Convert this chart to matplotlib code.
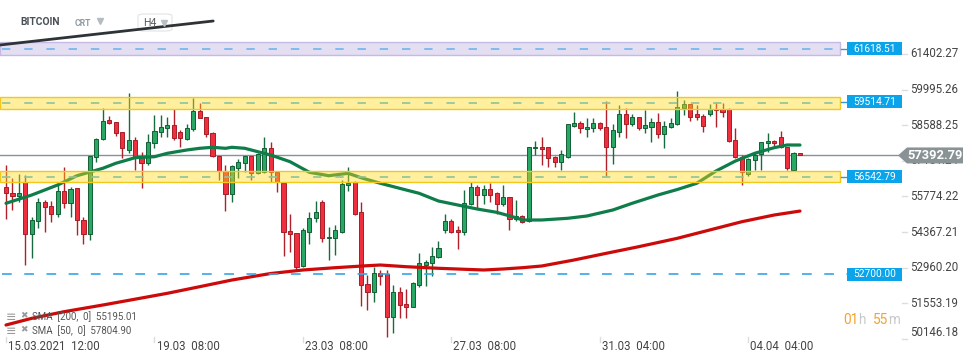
import numpy as np
import matplotlib
matplotlib.use("Agg")
import matplotlib.pyplot as plt
from matplotlib.patches import Rectangle, Polygon, FancyBboxPatch
from matplotlib.transforms import blended_transform_factory, offset_copy

plt.rcParams['font.family'] = ['Roboto', 'DejaVu Sans']
plt.rcParams['lines.scale_dashes'] = False

# ---------------- data ----------------
opens = [56134, 55897, 55802, 56355, 54277, 54802, 55565, 55407, 55067, 55988,
         55502, 56094, 54854, 54277, 57320, 58043, 58794, 58703, 58308, 57608,
         58003, 57383, 57082, 57873, 58308, 58466, 58596, 58308, 58043, 58426,
         59149, 58924, 58268, 57383, 56778, 55857, 56909, 57082, 57383, 56687,
         56727, 57675, 56750, 56292, 54407, 54328, 53036, 54379, 54909, 55541,
         54118, 54142, 54379, 56225, 56332, 55146, 52301, 51984, 52735, 52696,
         51020, 51984, 51522, 51415, 52273, 53063, 53130, 53391, 54446, 54802,
         54446, 54356, 55462, 56134, 55830, 56055, 55897, 55462, 55739, 54881,
         55012, 54802, 57675, 57738, 57715, 57320, 57146, 57343, 58568, 58663,
         58438, 58466, 58663, 58517, 57715, 58331, 59019, 58624, 58900, 58489,
         58529, 58703, 58229, 58529, 58624, 59280, 59414, 59019, 58964, 59019,
         59228, 59228, 59228, 58003, 57343, 56648, 57201, 57438, 57873, 57964,
         58110, 57738, 56818, 57501]
highs = [57015, 56490, 56660, 56620, 54972, 55699, 55632, 55592, 56355, 56948,
         56158, 56094, 54972, 57359, 58070, 59280, 58952, 58703, 58308, 59849,
         58134, 57541, 58229, 58991, 58991, 58900, 59228, 58398, 58624, 59651,
         59454, 58924, 58331, 57383, 57015, 57015, 57252, 57383, 57383, 57478,
         58134, 57912, 56750, 56292, 55067, 54328, 54514, 55170, 55592, 55632,
         54577, 54644, 56422, 56948, 56383, 55541, 52668, 52996, 52866, 52866,
         52273, 52206, 52115, 52403, 53526, 53261, 53786, 54012, 55067, 54881,
         54616, 56027, 56355, 56225, 56225, 56292, 55936, 56225, 55762, 55632,
         55039, 57727, 57964, 58134, 57738, 57383, 57608, 58624, 59098, 58754,
         58861, 58861, 58703, 59544, 58624, 59386, 59280, 59019, 58900, 59189,
         58861, 59058, 58754, 58861, 59940, 59584, 59414, 59386, 59019, 59414,
         59517, 59454, 59256, 58489, 57410, 57304, 57541, 57912, 58268, 58003,
         58359, 57738, 57541, 57501]
lows = [54881, 55237, 55553, 53063, 53352, 54537, 54379, 54751, 54972, 55304,
        54972, 54249, 53881, 54051, 57122, 58003, 58624, 58173, 57304, 57478,
        56818, 56094, 57015, 57675, 58134, 58134, 58003, 57738, 58003, 58359,
        58861, 58134, 57343, 56422, 55197, 55565, 56513, 56750, 56422, 56648,
        56687, 56355, 55960, 53431, 53565, 52866, 52996, 53881, 54774, 53960,
        53261, 53458, 54316, 55988, 55039, 51455, 51285, 51589, 52273, 50230,
        50364, 50981, 50969, 51415, 52206, 52245, 52640, 53352, 54316, 54316,
        53696, 54249, 55434, 55328, 55462, 55565, 55067, 55407, 54446, 54802,
        54711, 54774, 57410, 57015, 56948, 56948, 56818, 57280, 58529, 58268,
        58134, 58331, 58398, 56592, 57043, 58134, 58094, 58568, 58398, 58268,
        57936, 58094, 57699, 58489, 58596, 58991, 58754, 58794, 58308, 58964,
        58529, 58924, 57936, 57280, 56225, 56592, 56818, 56818, 57541, 57778,
        57699, 56818, 56778, 57392.79]
closes = [55897, 55802, 55897, 54277, 54830, 55565, 55367, 55067, 55988, 55502,
          56067, 54830, 54277, 57359, 58043, 58754, 58663, 58268, 57675, 58003,
          57343, 57082, 57912, 58359, 58505, 58596, 58094, 58070, 58466, 59149,
          58884, 58229, 57383, 56778, 55857, 56976, 57122, 57383, 56687, 57438,
          57675, 56750, 56332, 54356, 54277, 52996, 54446, 54933, 55146, 54118,
          54182, 54434, 56264, 56304, 55067, 52273, 51984, 52735, 52640, 51020,
          51984, 51482, 51415, 52340, 53130, 53170, 53431, 53723, 54802, 54379,
          54356, 55502, 56134, 55830, 56055, 55830, 55462, 55739, 54881, 55012,
          54774, 57727, 57738, 57648, 57280, 57146, 57438, 58624, 58663, 58466,
          58517, 58663, 58466, 57715, 58398, 59019, 58624, 58924, 58489, 58596,
          58703, 58229, 58557, 58663, 59319, 59414, 58924, 58924, 58568, 59228,
          59177, 59122, 57964, 57343, 56727, 57252, 57410, 57912, 57964, 57873,
          57738, 56885, 57501, 57392.79]

sma50_idx = [0, 4, 8, 11, 15, 17, 20, 23, 25, 28, 30, 32, 34, 35, 37, 39, 41, 44,
             47, 50, 53, 55, 58, 62, 64, 67, 70, 73, 76, 79, 80, 83, 87, 90, 94,
             97, 101, 104, 107, 110, 113, 116, 119, 121, 123]
sma50_val = [55502, 55830, 56225, 56592, 56885, 57082, 57304, 57343, 57478, 57608,
             57675, 57715, 57675, 57715, 57675, 57541, 57410, 57146, 56727, 56592,
             56687, 56513, 56292, 56027, 55897, 55592, 55434, 55276, 55146, 54933,
             54842, 54842, 54909, 55000, 55237, 55502, 55830, 56047, 56292, 56778,
             57173, 57478, 57699, 57806, 57804.90]
sma200_idx = [0, 4, 9, 15, 21, 25, 30, 35, 41, 46, 51, 56, 58, 62, 67, 74, 77, 80,
              83, 88, 93, 98, 104, 109, 114, 119, 123]
sma200_val = [50692, 50957, 51218, 51482, 51759, 51945, 52206, 52470, 52727, 52866,
              52957, 53036, 53063, 52996, 52933, 52866, 52905, 52957, 53024, 53261,
              53526, 53786, 54118, 54446, 54774, 55039, 55195.01]

band_levels = [61618.51, 59514.71, 56542.79]
band_lo = [61362, 59228, 56332]
band_hi = [61876, 59691, 56778]
line_level = 52700.00
last_price = 57392.79

price_ticks = [61402.27, 59995.26, 58588.25, 57181.24, 55774.22,
               54367.21, 52960.20, 51553.19, 50146.18]
time_tick_idx = [0, 23, 46, 69, 92, 115]
time_tick_labels = ["15.03.2021  12:00", "19.03  08:00", "23.03  08:00",
                    "27.03  08:00", "31.03  04:00", "04.04  04:00"]

trend_x = [-0.93, 32.1]
trend_y = [61758, 62706]

# ---------------- figure ----------------
W, H = 970, 364
fig = plt.figure(figsize=(W / 100, H / 100), dpi=100)
ax = fig.add_axes([0, 0, 1, 1])
ax.axis('off')
YMIN, YMAX = 49151, 63536
ax.set_xlim(-6 / 6.455, (W - 6) / 6.455)
ax.set_ylim(YMIN, YMAX)
PPX = (YMAX - YMIN) / H  # price per pixel


def X(px):
    return px / W


def Yf(py):
    return 1 - py / H


tb = blended_transform_factory(ax.transAxes, ax.transData)  # x axes frac, y data
tx = blended_transform_factory(ax.transData, ax.transAxes)  # x data, y axes frac

o = np.array(opens, float)
h = np.array(highs, float)
l = np.array(lows, float)
c = np.array(closes, float)
x = np.arange(len(o))
up = c >= o
bot = np.minimum(o, c)
bh = np.maximum(np.abs(c - o), PPX * 1.2)

# current price line
ax.plot([0, X(898)], [last_price, last_price], transform=tb, color='#8a9094',
        lw=1.0, zorder=1)

# candles
ax.vlines(x[up], l[up], h[up], color='#176b3f', lw=1.0, zorder=2)
ax.vlines(x[~up], l[~up], h[~up], color='#b0202b', lw=1.0, zorder=2)
ax.bar(x[up], bh[up], bottom=bot[up], width=0.64, color='#28a864',
       edgecolor='#145e36', linewidth=0.7, zorder=2.1)
ax.bar(x[~up], bh[~up], bottom=bot[~up], width=0.64, color='#ef2f3d',
       edgecolor='#a51d27', linewidth=0.7, zorder=2.1)

# SMAs
ax.plot(sma50_idx, sma50_val, color='#0e7d4a', lw=2.3, zorder=3,
        solid_capstyle='round', solid_joinstyle='round')
ax.plot(sma200_idx, sma200_val, color='#cc0a0a', lw=2.3, zorder=3,
        solid_capstyle='round', solid_joinstyle='round')

# bands
band_face = [(0.88, 0.85, 0.95, 0.85), (1.0, 0.85, 0.1, 0.42), (1.0, 0.85, 0.1, 0.42)]
band_edge = ['#c6b9e2', '#f2c81c', '#f2c81c']
dash_col = ['#6fb4ee', '#8fc39a', '#8fc39a']
for lv, lo, hi, fc, ec, dc in zip(band_levels, band_lo, band_hi, band_face, band_edge, dash_col):
    ax.add_patch(Rectangle((0, lo), X(840), hi - lo, transform=tb, facecolor=fc,
                           edgecolor=ec, lw=1.0, zorder=4))
    mid = (lo + hi) / 2
    ax.plot([X(2), X(838)], [mid, mid], transform=tb, color=dc, lw=1.2,
            dashes=(6, 10), zorder=4.5)
    ax.plot([X(841), X(847)], [lv, lv], transform=tb, color='#2b9be0', lw=1.0, zorder=4.5)

# 52700 line
ax.plot([X(2), X(847)], [line_level, line_level], transform=tb, color='#35a6e6',
        lw=1.2, dashes=(7, 9), zorder=4.5)

# level boxes
for lv in band_levels + [line_level]:
    ax.add_patch(Rectangle((X(847), lv - 6.5 * PPX), X(902) - X(847), 13 * PPX,
                           transform=tb, facecolor='#0ba4ea', edgecolor='none', zorder=6))
    ax.text(X(874.5), lv, f"{lv:.2f}", transform=tb, color='white', fontsize=7.3,
            ha='center', va='center', zorder=7)

# trendline
ax.plot(trend_x, trend_y, color='#2e3338', lw=2.0, zorder=5, solid_capstyle='round')

# price axis labels
tag_bottom = last_price - 8 * PPX
for i, p in enumerate(price_ticks):
    dy = 6 if i == len(price_ticks) - 1 else 0
    ax.plot([X(902), X(907)], [p, p], transform=tb, color='#dddddd', lw=1, zorder=5)
    if abs(p - last_price) < 10 * PPX:
        # label hidden behind the current-price tag: only its lower edge shows
        clip = Rectangle((X(905), YMIN), X(965) - X(905), tag_bottom - YMIN,
                         transform=tb, facecolor='none', edgecolor='none')
        ax.add_patch(clip)
        t = ax.text(X(910), p, f"{p:.2f}", transform=tb, color='#444444',
                    fontsize=8.3, ha='left', va='center', zorder=5)
        t.set_clip_path(clip)
        continue
    tr = offset_copy(tb, fig=fig, x=0, y=dy / 100 * 72, units='points')
    ax.text(X(910), p, f"{p:.2f}", transform=tr, color='#444444', fontsize=8.3,
            ha='left', va='center', zorder=5)

# current price tag
pts = [(X(898), last_price), (X(907), last_price + 8 * PPX), (X(963), last_price + 8 * PPX),
       (X(963), last_price - 8 * PPX), (X(907), last_price - 8 * PPX)]
ax.add_patch(Polygon(pts, closed=True, transform=tb, facecolor='#899396',
                     edgecolor='none', zorder=8))
ax.text(X(935), last_price, f"{last_price:.2f}", transform=tb, color='white',
        fontsize=9.3, fontweight='bold', ha='center', va='center', zorder=9)

# time axis labels
for ti, tl in zip(time_tick_idx, time_tick_labels):
    ax.plot([ti, ti], [Yf(337), Yf(342)], transform=tx, color='#dddddd', lw=1, zorder=5)
    tr = offset_copy(tx, fig=fig, x=1.5, y=0, units='points')
    ax.text(ti, Yf(346), tl, transform=tr, color='#444444', fontsize=8.3,
            ha='left', va='center', zorder=5)

# top-left header
ax.text(X(20), Yf(22), "BITCOIN", transform=ax.transAxes, color='#4a5058',
        fontsize=7.4, fontweight='bold', ha='left', va='center')
ax.text(X(75), Yf(23), "CRT", transform=ax.transAxes, color='#8d9aa4',
        fontsize=6.2, fontweight='bold', ha='left', va='center')
ax.plot([X(100)], [Yf(21)], marker='v', color='#b3bcc3', markersize=4.5,
        transform=ax.transAxes, zorder=6)
ax.add_patch(FancyBboxPatch((X(138), Yf(31)), X(172) - X(138), Yf(14) - Yf(31),
                            boxstyle="round,pad=0,rounding_size=0.006",
                            transform=ax.transAxes, facecolor='white',
                            edgecolor='#e3e3e3', lw=0.8, zorder=4))
ax.text(X(143), Yf(23), "H4", transform=ax.transAxes, color='#555b61',
        fontsize=7.6, ha='left', va='center', zorder=6)
ax.plot([X(164)], [Yf(23)], marker='v', color='#b8bfc5', markersize=4.5,
        transform=ax.transAxes, zorder=6)

# SMA legend
for yy, txt in [(317, "SMA  [200,  0]  55195.01"), (331, "SMA  [50,  0]  57804.90")]:
    ax.text(X(6), Yf(yy), "\u2261", transform=ax.transAxes, color='#9a9a9a',
            fontsize=9, ha='left', va='center', family='DejaVu Sans', zorder=6)
    ax.text(X(20), Yf(yy - 1), "\u2716", transform=ax.transAxes, color='#9a9a9a',
            fontsize=6.5, ha='left', va='center', family='DejaVu Sans', zorder=6)
    ax.text(X(32), Yf(yy), txt, transform=ax.transAxes, color='#555555',
            fontsize=7.0, ha='left', va='center', zorder=6)

# timer
for xx, s, col in [(843.5, "01", '#f7a12a'), (858.5, "h", '#c6c9cc'),
                   (872.5, "55", '#f7a12a'), (888.5, "m", '#c6c9cc')]:
    ax.text(X(xx), Yf(319.5), s, transform=ax.transAxes, color=col, fontsize=9.8,
            ha='left', va='center', zorder=6)

fig.savefig("out.png", dpi=100)
